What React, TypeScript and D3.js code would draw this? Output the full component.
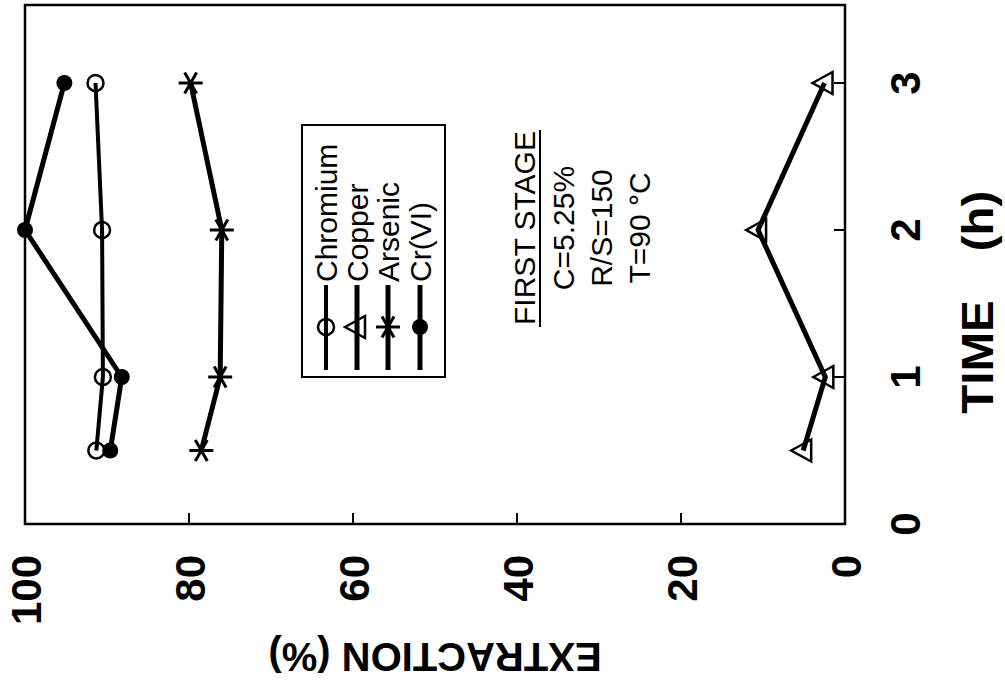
import React from "react";
import * as d3 from "d3";

const times = [0.5, 1, 2, 3];
const chromium = [91.3, 90.5, 90.6, 91.4];
const copper = [5.1, 2.4, 10.6, 2.5];
const arsenic = [78.5, 76.2, 76.0, 79.8];
const crVI = [89.6, 88.2, 100, 95.2];
const timeTicks = [0, 1, 2, 3];
const extractionTicks = [0, 20, 40, 60, 80, 100];
const legendNames = ["Chromium", "Copper", "Arsenic", "Cr(VI)"];
const noteLines = ["C=5.25%", "R/S=150", "T=90 °C"];

const FONT = "'Liberation Sans', Arial, Helvetica, sans-serif";

const yT = d3.scaleLinear().domain([0, 3]).range([524, 83]);
const xV = d3.scaleLinear().domain([0, 100]).range([845, 25]);
const tTop = yT.invert(5);

function Marker({ kind, cx, cy }: { kind: string; cx: number; cy: number }) {
  if (kind === "circle") {
    return <circle cx={cx} cy={cy} r={8} fill="none" stroke="#000" strokeWidth={2.5} />;
  }
  if (kind === "dot") {
    return <circle cx={cx} cy={cy} r={8} fill="#000" />;
  }
  if (kind === "tri") {
    const p = `${cx - 12},${cy} ${cx + 8},${cy - 11} ${cx + 8},${cy + 11}`;
    return <polygon points={p} fill="none" stroke="#000" strokeWidth={2.5} strokeLinejoin="miter" />;
  }
  const r = 12;
  const angs = [0, 60, 120];
  return (
    <g stroke="#000" strokeWidth={3}>
      {angs.map((a) => {
        const rad = (a * Math.PI) / 180;
        return (
          <line
            key={a}
            x1={cx - r * Math.cos(rad)}
            y1={cy - r * Math.sin(rad)}
            x2={cx + r * Math.cos(rad)}
            y2={cy + r * Math.sin(rad)}
          />
        );
      })}
    </g>
  );
}

const seriesList = [
  { name: legendNames[0], values: chromium, kind: "circle", width: 4 },
  { name: legendNames[1], values: copper, kind: "tri", width: 5 },
  { name: legendNames[2], values: arsenic, kind: "star", width: 5 },
  { name: legendNames[3], values: crVI, kind: "dot", width: 5 },
];

export default function App() {
  const line = d3
    .line<number>()
    .x((d) => xV(d))
    .y((_d, i) => yT(times[i]));

  const legendRows = [326, 357, 388, 420];

  return (
    <svg
      width={1005}
      height={688}
      style={{ position: "absolute", left: 0, top: 0, background: "#fff" }}
      fontFamily={FONT}
    >
      <rect x={0} y={0} width={1005} height={688} fill="#fff" />
      <rect
        x={xV(100)}
        y={yT(tTop)}
        width={xV(0) - xV(100)}
        height={yT(0) - yT(tTop)}
        fill="none"
        stroke="#000"
        strokeWidth={2.5}
      />
      {extractionTicks.map((v) => (
        <g key={"v" + v}>
          <line x1={xV(v)} x2={xV(v)} y1={yT(0)} y2={yT(0) - 11} stroke="#000" strokeWidth={2} />
          <text
            transform={`translate(${xV(v) + 16},555) rotate(-90)`}
            textAnchor="end"
            fontSize={42}
            fontWeight="bold"
          >
            {v}
          </text>
        </g>
      ))}
      {timeTicks.map((t) => (
        <g key={"t" + t}>
          <line x1={xV(0)} x2={xV(0) - 11} y1={yT(t)} y2={yT(t)} stroke="#000" strokeWidth={2} />
          <text
            transform={`translate(920,${yT(t)}) rotate(-90)`}
            textAnchor="middle"
            fontSize={42}
            fontWeight="bold"
          >
            {t}
          </text>
        </g>
      ))}
      <text transform="translate(993,357) rotate(-90) scale(1.08,1)" textAnchor="middle" fontSize={44} fontWeight="bold">
        TIME
      </text>
      <text transform="translate(993,221) rotate(-90) scale(1.08,1)" textAnchor="middle" fontSize={44} fontWeight="bold">
        (h)
      </text>
      <text transform="translate(435,643) rotate(180)" textAnchor="middle" fontSize={40} fontWeight="bold">
        EXTRACTION (%)
      </text>

      {seriesList.map((s) => (
        <g key={s.name}>
          <path d={line(s.values) || ""} fill="none" stroke="#000" strokeWidth={s.width} strokeLinejoin="round" />
          {s.values.map((v, i) => (
            <Marker key={i} kind={s.kind} cx={xV(v)} cy={yT(times[i])} />
          ))}
        </g>
      ))}

      <rect x={302} y={125} width={143} height={252} fill="none" stroke="#000" strokeWidth={2} />
      {seriesList.map((s, i) => (
        <g key={"lg" + s.name}>
          <line x1={legendRows[i]} x2={legendRows[i]} y1={370} y2={285} stroke="#000" strokeWidth={s.width} />
          <Marker kind={s.kind} cx={legendRows[i]} cy={327} />
          <text transform={`translate(${legendRows[i] + 11},282) rotate(-90)`} fontSize={30}>
            {s.name}
          </text>
        </g>
      ))}

      <text transform="translate(535,228) rotate(-90)" textAnchor="middle" fontSize={30}>
        FIRST STAGE
      </text>
      <line x1={540} x2={540} y1={130} y2={327} stroke="#000" strokeWidth={2} />
      {noteLines.map((t, i) => (
        <text
          key={t}
          transform={`translate(${574 + i * 38},228) rotate(-90)`}
          textAnchor="middle"
          fontSize={30}
        >
          {t}
        </text>
      ))}
    </svg>
  );
}
